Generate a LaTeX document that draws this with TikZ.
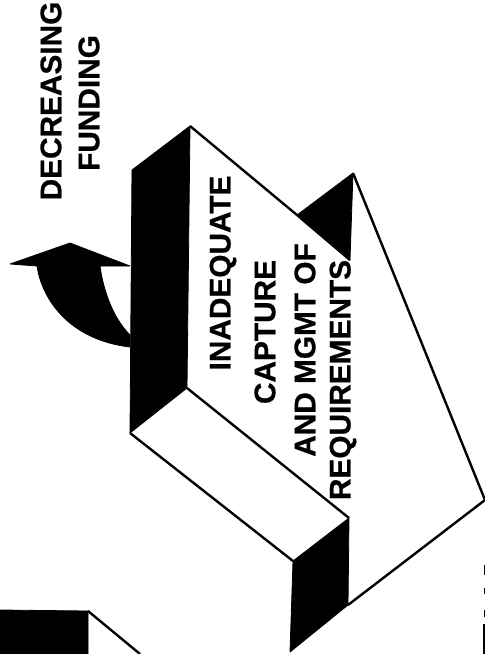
\documentclass[tikz,border=0pt]{standalone}
\usepackage{fontspec}
\setmainfont[BoldFeatures={FakeBold=0.7}]{Liberation Sans}
\tikzset{
  blk/.style={fill=black,draw=black,line width=0.8pt,line join=round},
  edge/.style={draw=black,line width=2.4pt,line join=round},
  lbl/.style={rotate=90,inner sep=0pt,font=\fontsize{29.8}{32}\selectfont\bfseries,text=black}
}
\begin{document}
\begin{tikzpicture}[x=1pt,y=-1pt]
\useasboundingbox (0,0) rectangle (485,654);
\fill[white] (0,0) rectangle (485,654);
\coordinate (a) at (190,126);
\coordinate (b) at (132,170);
\coordinate (c) at (130,433);
\coordinate (d) at (187,388);
\coordinate (e) at (297,215);
\coordinate (f) at (353,173);
\coordinate (g) at (350,260);
\coordinate (h) at (485,500);
\coordinate (i) at (348,605);
\coordinate (j) at (290,652);
\coordinate (k) at (293,561);
\coordinate (l) at (349,518);
\coordinate (m) at (88,611);
\coordinate (n) at (140,654);
\fill[blk] (a)--(b)--(c)--(d)--cycle;
\fill[blk] (e)--(f)--(g)--cycle;
\fill[blk] (k)--(l)--(i)--(j)--cycle;
\draw[edge] (a)--(e);
\draw[edge] (e)--(g);
\draw[edge] (f)--(h)--(i);
\draw[edge] (d)--(l);
\draw[edge] (c)--(k);
% curved arrow
\fill[blk] (70,243)--(10,264)--(37,266)
  .. controls (42,300) and (70,340) .. (130,347)
  --(130,335)
  .. controls (115,320) and (104,295) .. (100,266)
  --(130,266)--cycle;
% lower-left block
\fill[blk] (0,610)--(m)--(88,654)--(0,654)--cycle;
\draw[edge] (m)--(n);
% clipped marks at the right edge
\fill[black] (484,565) rectangle (485,575);
\fill[black] (484,588) rectangle (485,594);
\fill[black] (484,610) rectangle (485,617);
\fill[black] (483,624) rectangle (485,654);
% labels
\node[lbl] (t1) at (51,101) {DECREASING};
\node[lbl] (t2) at (89,103) {FUNDING};
\node[lbl] (t3) at (223,273) {INADEQUATE};
\node[lbl] (t4) at (265,332) {CAPTURE};
\node[lbl] (t5) at (305,350) {AND MGMT OF};
\node[lbl] (t6) at (343,380) {REQUIREMENTS};
\end{tikzpicture}
\end{document}
